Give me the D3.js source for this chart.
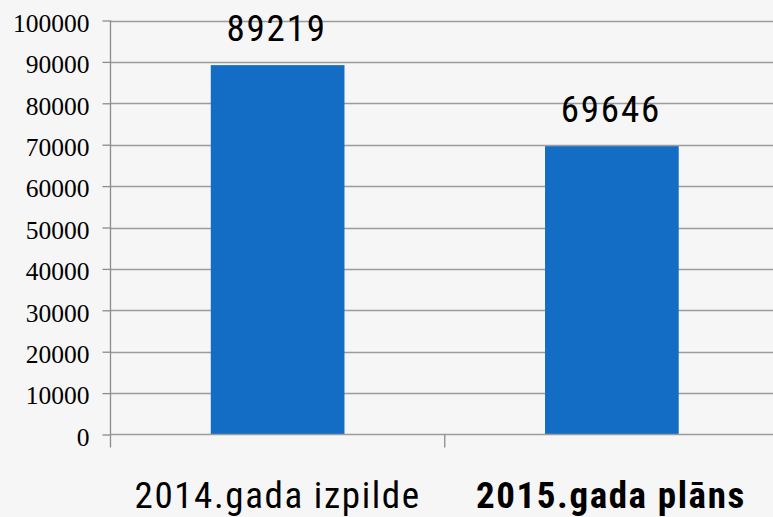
<!DOCTYPE html>
<html>
<head>
<meta charset="utf-8">
<script src="https://cdn.jsdelivr.net/npm/d3@7"></script>
<style>
html,body{margin:0;padding:0;background:#f6f6f6;}
svg{display:block;}
</style>
</head>
<body>
<svg id="chart" width="773" height="517"></svg>
<script>
const categories = ["2014.gada izpilde", "2015.gada plāns"];
const values = [89219, 69646];
const yTicks = [0, 10000, 20000, 30000, 40000, 50000, 60000, 70000, 80000, 90000, 100000];
const boldCategory = [false, true];

const svg = d3.select("#chart");
const W = 773, H = 517;
const x0 = 110.5, x1 = 779;
const yBottom = 434.5, yTop = 20.5;
const narrow = "'Liberation Sans Narrow','Arial Narrow','Roboto Condensed','Liberation Sans',sans-serif";

svg.append("rect").attr("width", W).attr("height", H).attr("fill", "#f6f6f6");

const x = d3.scaleBand().domain(categories).range([x0, x1]).paddingInner(0.6).paddingOuter(0.3);
const xb = d3.scaleBand().domain(categories).range([x0, x1]).padding(0);
const y = d3.scaleLinear().domain([0, 100000]).range([yBottom, yTop]);

// gridlines
svg.append("g").selectAll("line").data(yTicks.filter(d => d > 0)).join("line")
  .attr("x1", x0).attr("x2", W)
  .attr("y1", d => Math.round(y(d)) + 0.5).attr("y2", d => Math.round(y(d)) + 0.5)
  .attr("stroke", "#9c9c9c").attr("stroke-width", 1.3);

// bars
svg.append("g").selectAll("rect").data(values).join("rect")
  .attr("x", (d, i) => x(categories[i]))
  .attr("width", x.bandwidth())
  .attr("y", d => y(d))
  .attr("height", d => y(0) - y(d))
  .attr("fill", "#136dc5");

// y axis
const yAxis = d3.axisLeft(y).tickValues(yTicks).tickSize(8).tickPadding(13).tickFormat(d3.format("d"));
const gy = svg.append("g").attr("transform", `translate(${x0},0)`).call(yAxis);
gy.select(".domain").attr("d", `M0,${yTop}V${yBottom + 13}`).attr("stroke", "#8c8c8c").attr("stroke-width", 1.3);
gy.selectAll(".tick line").attr("stroke", "#8c8c8c").attr("stroke-width", 1.3);
gy.selectAll(".tick text").attr("font-family", "'Liberation Serif','Times New Roman',serif")
  .attr("font-size", 25.5).attr("fill", "#000").attr("dy", "0.42em");

// x axis baseline and tick
const xAxis = d3.axisBottom(xb).tickSize(0).tickFormat("");
const gx = svg.append("g").attr("transform", `translate(0,${yBottom})`).call(xAxis);
gx.select(".domain").attr("d", `M${x0},0H${W}`).attr("stroke", "#9c9c9c").attr("stroke-width", 1.3);
gx.selectAll(".tick").remove();
svg.append("line")
  .attr("x1", xb(categories[1])).attr("x2", xb(categories[1]))
  .attr("y1", yBottom).attr("y2", yBottom + 13)
  .attr("stroke", "#8c8c8c").attr("stroke-width", 1.3);

// category labels
svg.append("g").selectAll("text").data(categories).join("text")
  .attr("x", (d, i) => xb(d) + xb.bandwidth() / 2 - (i === 0 ? 0 : 1))
  .attr("y", 508)
  .attr("text-anchor", "middle")
  .attr("font-family", narrow)
  .attr("font-size", 37)
  .attr("letter-spacing", 1.6)
  .attr("font-weight", (d, i) => boldCategory[i] ? "bold" : "normal")
  .attr("fill", "#000")
  .text(d => d);

// value labels
svg.append("g").selectAll("text").data(values).join("text")
  .attr("x", (d, i) => x(categories[i]) + x.bandwidth() / 2 - 1)
  .attr("y", d => y(d) - 24)
  .attr("text-anchor", "middle")
  .attr("font-family", narrow)
  .attr("font-size", 37)
  .attr("letter-spacing", 1.8)
  .attr("fill", "#000")
  .text(d => d);
</script>
</body>
</html>
